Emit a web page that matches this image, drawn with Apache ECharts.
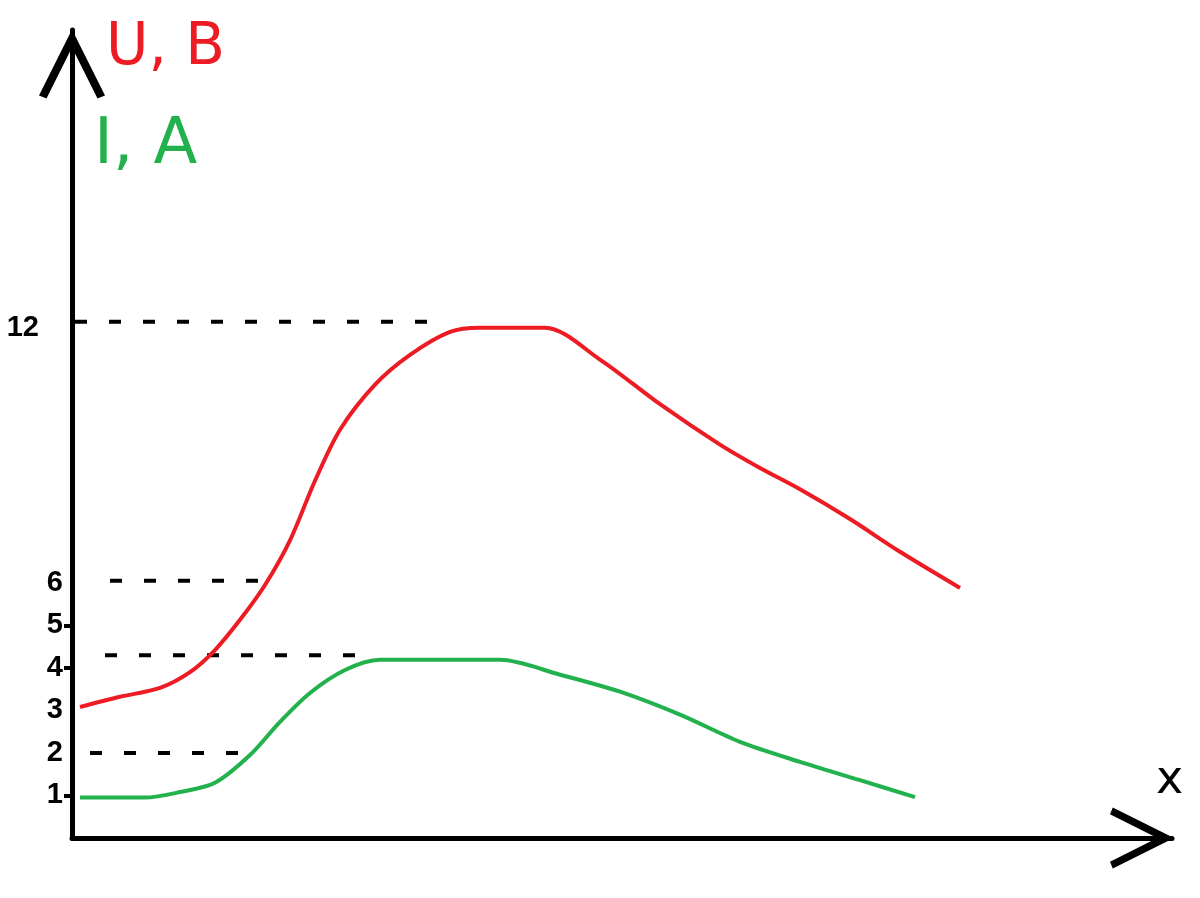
<!DOCTYPE html>
<html>
<head>
<meta charset="utf-8">
<title>U, B / I, A</title>
<script src="https://cdn.jsdelivr.net/npm/echarts@6/dist/echarts.min.js"></script>
<style>
  html, body { margin: 0; padding: 0; background: #fff; }
  #chart { width: 1200px; height: 898px; }
</style>
</head>
<body>
<div id="chart"></div>
<script>
// данные (x в условных единицах)
const uPoints = [
  [0.8, 3.08], [4.8, 3.32], [8.8, 3.53], [11.8, 3.9], [14.3, 4.42],
  [16.8, 5.13], [19.3, 5.95], [21.8, 7.0], [24.3, 8.4], [26.8, 9.6],
  [30.3, 10.66], [33.8, 11.36], [37.8, 11.9], [40.8, 12.0], [47.3, 12.0],
  [52.8, 11.25], [58.8, 10.2], [64.8, 9.25], [68.8, 8.7], [72.8, 8.2],
  [77.8, 7.5], [82.8, 6.73], [88.8, 5.88]
];
const iPoints = [
  [0.8, 0.95], [7.3, 0.95], [10.8, 1.08], [14.3, 1.3], [17.8, 1.95],
  [20.8, 2.73], [23.8, 3.41], [27.3, 3.95], [30.8, 4.19], [42.8, 4.19],
  [48.8, 3.84], [54.8, 3.44], [60.8, 2.9], [66.8, 2.26], [72.8, 1.79],
  [78.8, 1.36], [84.3, 0.96]
];
// пунктирные выноски: уровень, начало, конец
const guideLevels = [12.14, 6.05, 4.3, 2.0];
const guideStart = [0.3, 3.8, 3.3, 1.8];
const guideEnd = [37.3, 19.3, 29.8, 18.3];
// подписи оси Y
const yTicks = [1, 2, 3, 4, 5, 6, 12];

const RED = "#ED1C24";
const GREEN = "#22B14C";

const chart = echarts.init(document.getElementById("chart"));

// открытая стрелка (рисованная)
const chevron = "path://M0,0 L11,22 L8.5,23 L0,6 L-8.5,23 L-11,22 Z";

const guideSeries = guideLevels.map((lvl, i) => ({
  type: "line",
  data: [[guideStart[i], lvl], [guideEnd[i], lvl]],
  symbol: "none",
  silent: true,
  lineStyle: { color: "#000", width: 4, type: [12, 22] },
  z: 1
}));

chart.setOption({
  animation: false,
  backgroundColor: "#fff",
  grid: { left: 72, right: 28, top: 30, bottom: 60 },
  xAxis: {
    type: "value",
    min: 0,
    max: 110,
    splitLine: { show: false },
    axisTick: { show: false },
    axisLabel: { show: false },
    axisLine: {
      onZero: false,
      lineStyle: { color: "#000", width: 5 },
      symbol: ["none", chevron],
      symbolSize: [66, 64],
      symbolOffset: [0, -30]
    }
  },
  yAxis: {
    type: "value",
    min: 0,
    max: 19,
    splitLine: { show: false },
    axisLine: {
      onZero: false,
      lineStyle: { color: "#000", width: 5 },
      symbol: ["none", chevron],
      symbolSize: [66, 72],
      symbolOffset: [0, -34]
    },
    axisTick: {
      show: true,
      customValues: [1, 4, 5],
      length: 8,
      lineStyle: { color: "#000", width: 4 }
    },
    axisLabel: {
      customValues: yTicks,
      margin: 9,
      color: "#000",
      fontFamily: "Liberation Sans",
      fontWeight: "bold",
      fontSize: 29,
      formatter: (v) => (v === 12 ? "{far|12}" : String(v)),
      rich: {
        far: {
          fontFamily: "Liberation Sans",
          fontWeight: "bold",
          fontSize: 29,
          color: "#000",
          padding: [0, 24, 0, 0]
        }
      }
    }
  },
  series: [
    ...guideSeries,
    {
      name: "U, B",
      type: "line",
      data: uPoints,
      smooth: 0.3,
      symbol: "none",
      lineStyle: { color: RED, width: 4 },
      z: 3
    },
    {
      name: "I, A",
      type: "line",
      data: iPoints,
      smooth: 0.3,
      symbol: "none",
      lineStyle: { color: GREEN, width: 4 },
      z: 3
    }
  ],
  graphic: [
    {
      type: "text",
      left: 106,
      top: 20,
      style: { text: "U, B", fill: RED, font: "58px 'DejaVu Sans'" }
    },
    {
      type: "text",
      left: 94,
      top: 114,
      style: { text: "I, A", fill: GREEN, font: "64px 'DejaVu Sans'" }
    },
    {
      type: "text",
      left: 1156,
      top: 758,
      style: { text: "x", fill: "#000", font: "46px 'DejaVu Sans'" }
    }
  ]
});
</script>
</body>
</html>
